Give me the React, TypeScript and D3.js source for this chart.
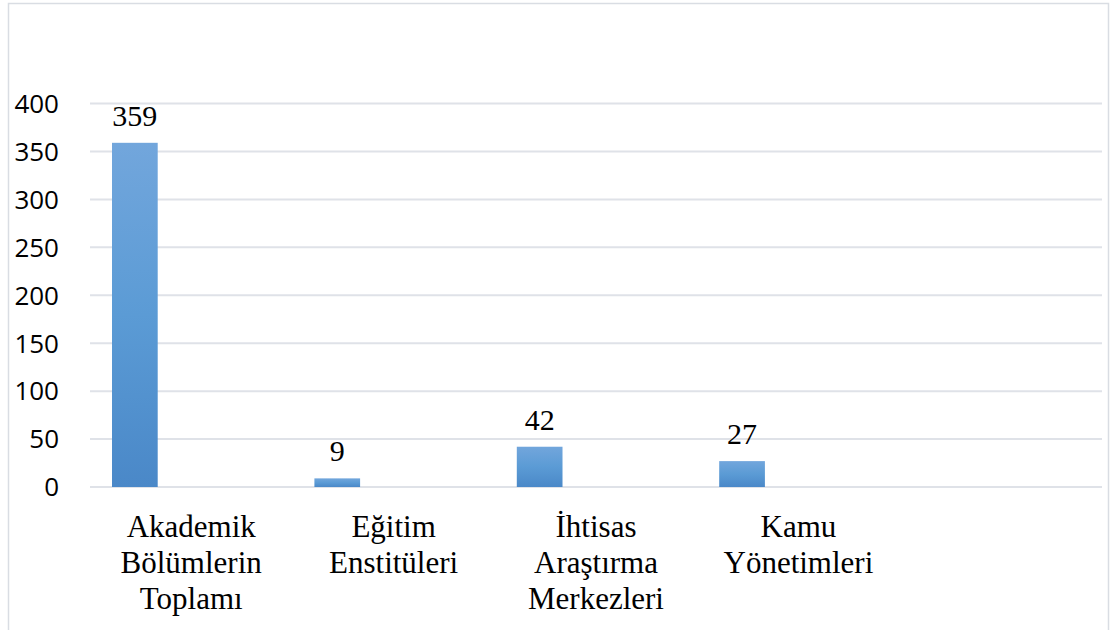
import React from "react";
import * as d3 from "d3";

const categories: string[][] = [
  ["Akademik", "Bölümlerin", "Toplamı"],
  ["Eğitim", "Enstitüleri"],
  ["İhtisas", "Araştırma", "Merkezleri"],
  ["Kamu", "Yönetimleri"],
  [],
];
const categoryKeys = ["c1", "c2", "c3", "c4", "c5"];
const values: (number | null)[] = [359, 9, 42, 27, null];
const yTicks = [0, 50, 100, 150, 200, 250, 300, 350, 400];

const W = 1110;
const H = 630;
const plot = { left: 90, right: 1102, top: 103.5, bottom: 487 };
const SERIF = "Liberation Serif, Tinos, DejaVu Serif, Times New Roman, serif";

export default function App() {
  const x = d3.scaleBand<string>().domain(categoryKeys).range([plot.left, plot.right]).padding(0);
  const y = d3.scaleLinear().domain([0, 400]).range([plot.bottom, plot.top]);
  const bw = x.bandwidth();
  const barOff = bw * 0.1087;
  const barW = bw * 0.2258;

  return (
    <svg
      width={W}
      height={H}
      style={{ position: "fixed", left: 0, top: 0, background: "#fff" }}
    >
      <defs>
        <linearGradient id="barGrad" x1="0" y1="0" x2="0" y2="1">
          <stop offset="0" stopColor="#72a6dc" />
          <stop offset="0.5" stopColor="#5b9bd5" />
          <stop offset="1" stopColor="#4a88c8" />
        </linearGradient>
      </defs>
      <rect x={8.5} y={3.5} width={1100} height={640} fill="#fff" stroke="#d9dde3" strokeWidth={1.5} />
      {yTicks.map((t) => (
        <g key={t}>
          <line x1={plot.left} x2={plot.right} y1={y(t)} y2={y(t)} stroke="#dfe2e8" strokeWidth={2} />
          <text
            x={59}
            y={y(t)}
            dy="0.36em"
            textAnchor="end"
            style={{ fontFamily: "'Open Sans', sans-serif", fontSize: 26 }}
            fill="#000"
          >
            {t}
          </text>
        </g>
      ))}
      {values.map((v, i) =>
        v == null ? null : (
          <g key={categoryKeys[i]}>
            <rect
              x={(x(categoryKeys[i]) as number) + barOff}
              y={y(v)}
              width={barW}
              height={y(0) - y(v)}
              fill="url(#barGrad)"
            />
            <text
              x={(x(categoryKeys[i]) as number) + barOff + barW / 2}
              y={y(v) - 17}
              textAnchor="middle"
              style={{ fontFamily: SERIF, fontSize: 30 }}
              fill="#000"
            >
              {v}
            </text>
          </g>
        )
      )}
      {categories.map((lines, i) => (
        <text
          key={categoryKeys[i]}
          x={(x(categoryKeys[i]) as number) + bw / 2}
          y={537}
          textAnchor="middle"
          style={{ fontFamily: SERIF, fontSize: 31 }}
          fill="#000"
        >
          {lines.map((l, j) => (
            <tspan key={j} x={(x(categoryKeys[i]) as number) + bw / 2} y={537 + j * 36}>
              {l}
            </tspan>
          ))}
        </text>
      ))}
    </svg>
  );
}
